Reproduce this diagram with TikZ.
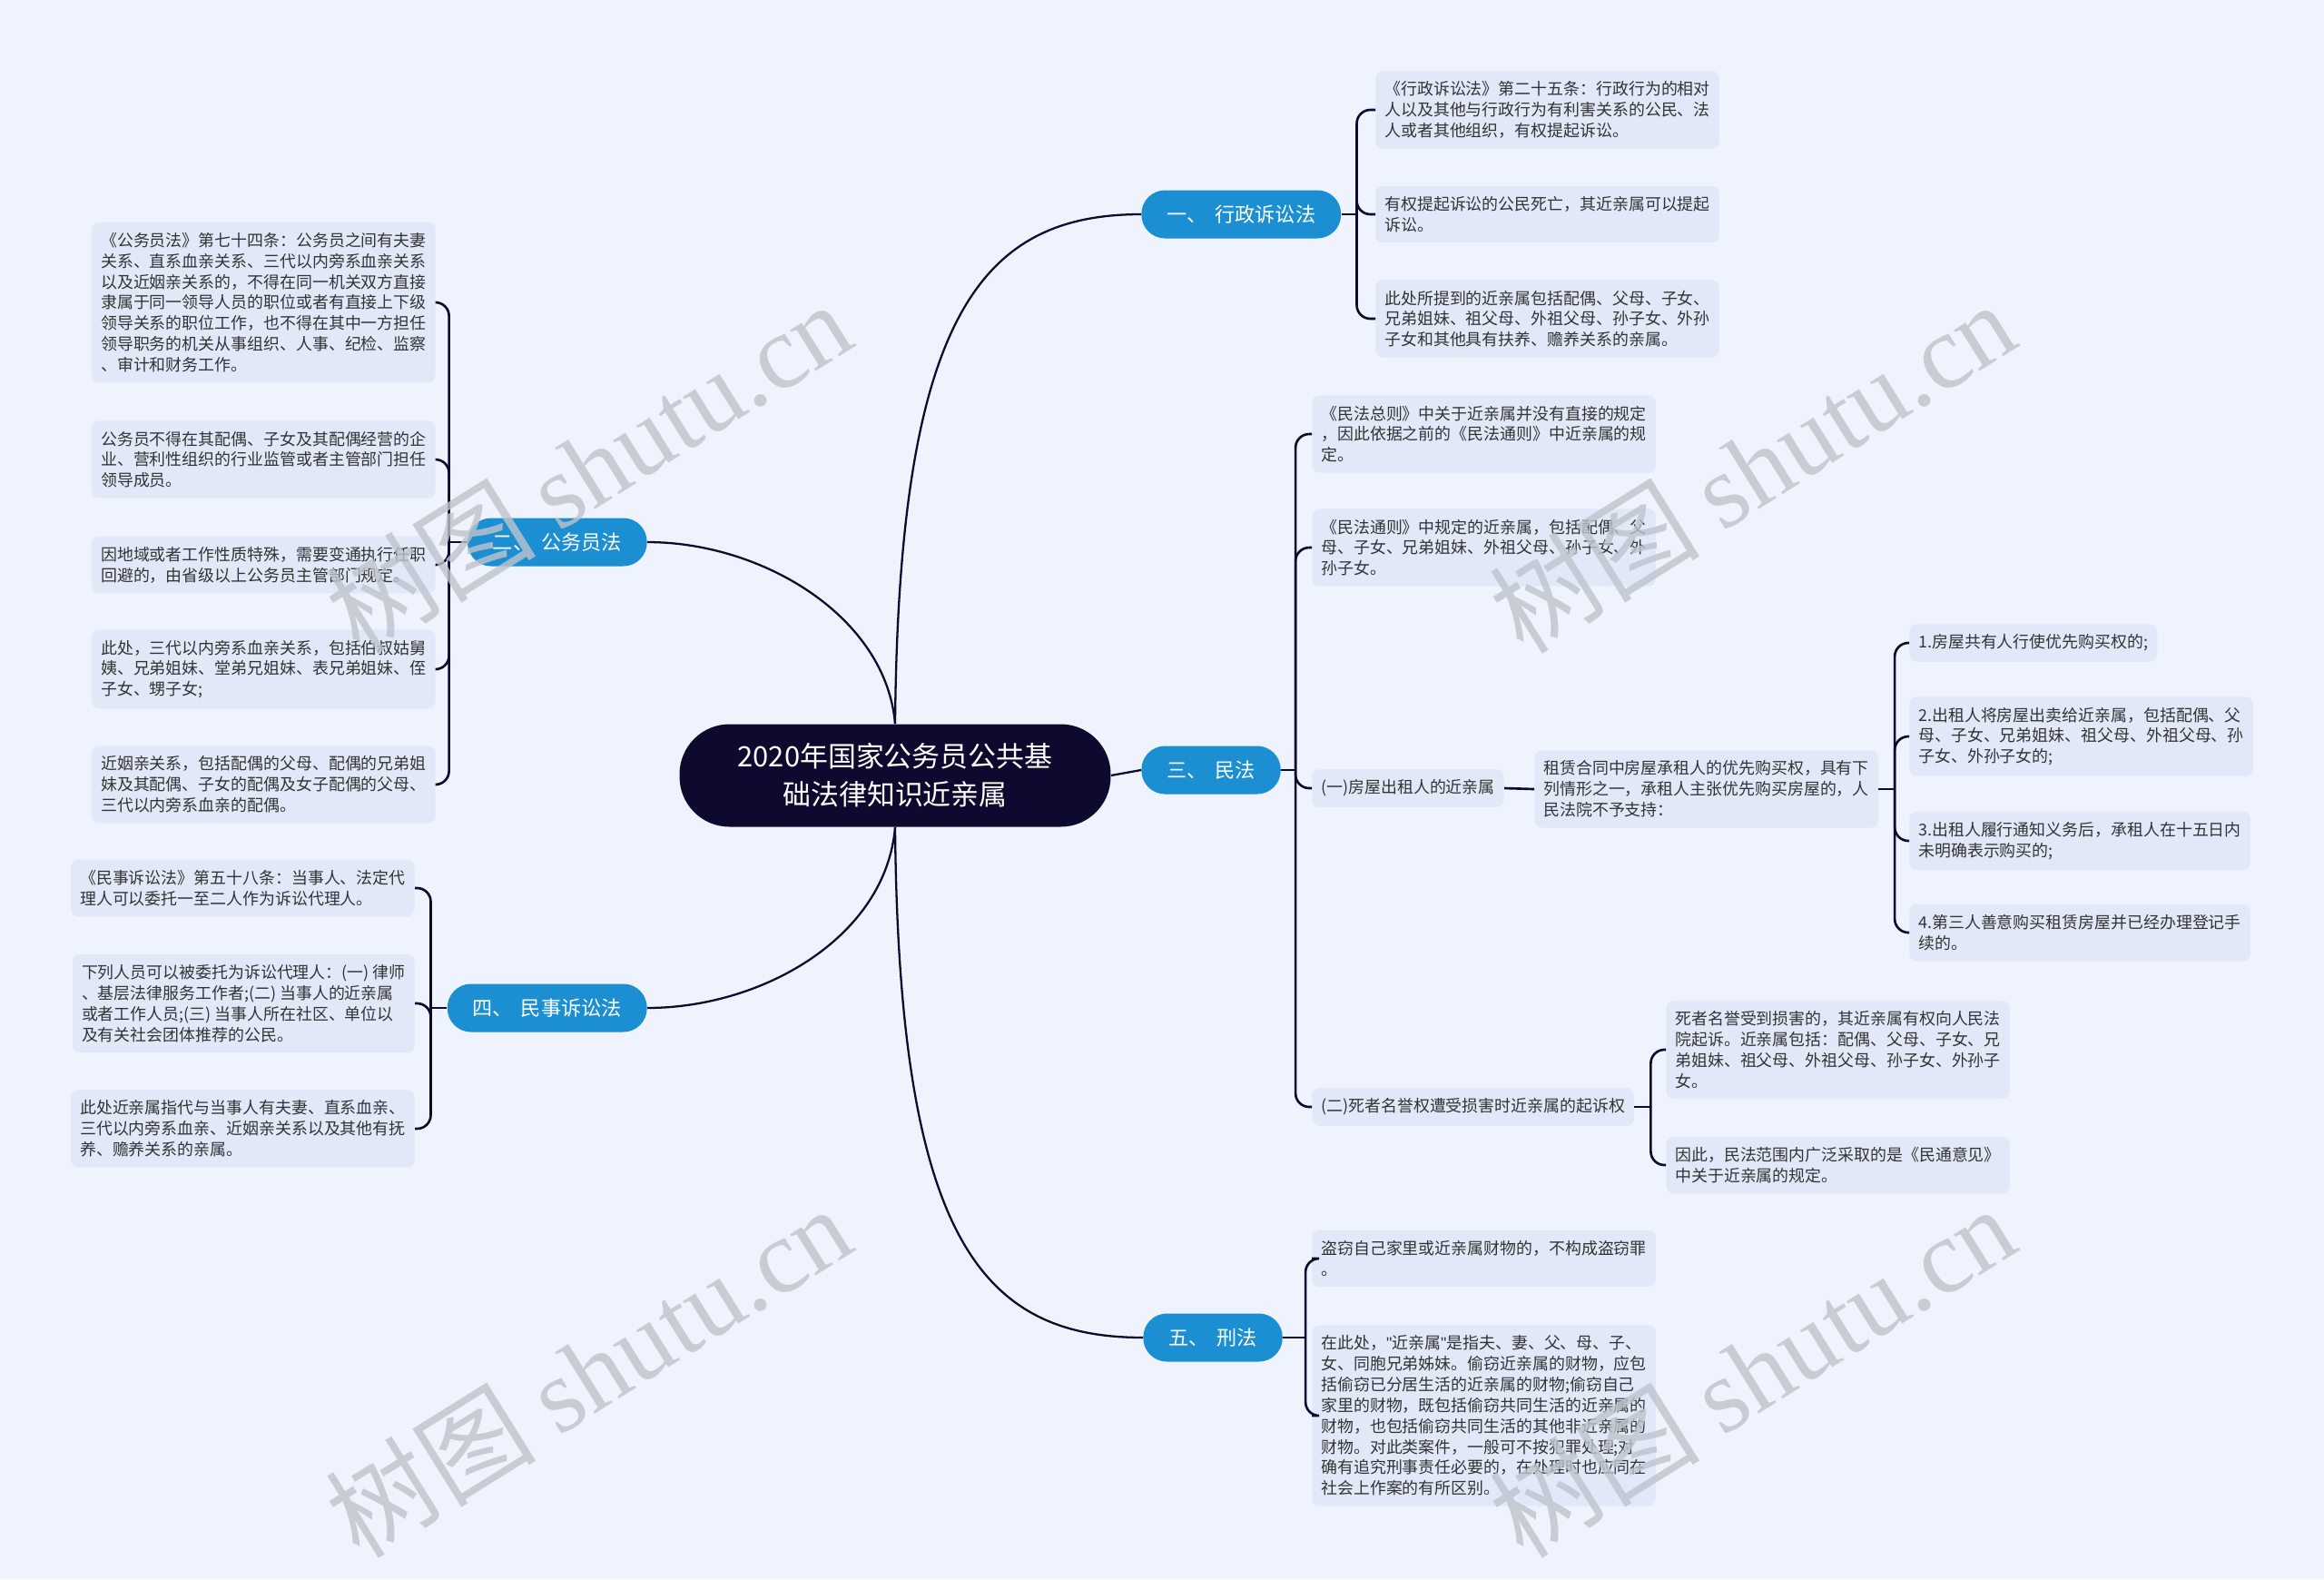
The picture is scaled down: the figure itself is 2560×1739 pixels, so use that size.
\documentclass[tikz,border=0pt]{standalone}
\usepackage{fontspec}
\setmainfont{Noto Sans CJK SC}
\newfontfamily\wmlatin{Liberation Serif}
\newfontfamily\quotefont{Liberation Sans}
\usepackage{tikz}
\usetikzlibrary{positioning, calc}

\definecolor{pagebg}{HTML}{EEF3FD}
\definecolor{leafbg}{HTML}{E1E9F9}
\definecolor{leafink}{HTML}{333333}
\definecolor{rootbg}{HTML}{0E0A2F}
\definecolor{branchbg}{HTML}{1B8FD2}
\definecolor{linkcol}{HTML}{0E0A2F}
\definecolor{wmgray}{HTML}{BFC4CC}

\tikzset{
  %% Root topic
  root/.style={
    rectangle, rounded corners=1.1cm,
    fill=rootbg, text=white, align=center,
    font={\fontsize{17.6pt}{23.8pt}\selectfont},
    minimum width=9.5cm, minimum height=2.26cm, inner sep=0pt
  },
  %% Main branch pill
  branch/.style={
    rectangle, rounded corners=0.52cm,
    fill=branchbg, text=white,
    font={\fontsize{12.6pt}{15pt}\selectfont},
    minimum height=1.06cm, inner xsep=0.56cm, inner ysep=0pt
  },
  %% Leaf note
  leaf/.style={
    rectangle, rounded corners=0.16cm,
    fill=leafbg, text=leafink, align=left,
    font={\fontsize{10.2pt}{13pt}\selectfont},
    inner xsep=0.2cm, inner ysep=0.23cm
  },
  %% Curved link from the root
  link/.style={draw=linkcol, line width=1.3pt},
  %% Bracket from a topic to its notes
  brace/.style={draw=linkcol, line width=1.5pt, rounded corners=0.3cm},
  %% Watermark
  wmark/.style={
    text=wmgray, rotate=32, opacity=0.8,
    font={\fontsize{66pt}{66pt}\selectfont}
  },
}

\begin{document}
\begin{tikzpicture}[x=0.02cm, y=-0.02cm]

  %% Page
  \fill[pagebg] (0,0) rectangle (2560,1739);
  \useasboundingbox (0,0) rectangle (2560,1739);

  %% Root
  \node[root] (c) at (986,854) {2020年国家公务员公共基\\础法律知识近亲属};

  %% Branches
  \node[branch, anchor=west] (b1) at (1257,236)  {一、\hspace{0.4em}行政诉讼法};
  \node[branch, anchor=east] (b2) at (713,597)   {二、\hspace{0.4em}公务员法};
  \node[branch, anchor=west] (b3) at (1257,848)  {三、\hspace{0.4em}民法};
  \node[branch, anchor=east] (b4) at (713,1110)  {四、\hspace{0.4em}民事诉讼法};
  \node[branch, anchor=west] (b5) at (1259,1473) {五、\hspace{0.4em}刑法};

  %% Links from root
  \draw[link] (c.north) .. controls +(4,-448) and +(-177,0) .. (b1.west);
  \draw[link] (c.north) .. controls +(-10,-118) and +(127,0) .. (b2.east);
  \draw[link] (c.east) -- (b3.west);
  \draw[link] (c.south) .. controls +(-10,121) and +(127,0) .. (b4.east);
  \draw[link] (c.south) .. controls +(4,451) and +(-179,0) .. (b5.west);

  %% Notes of branch one
  \node[leaf, anchor=west] (l1a) at (1515,121)
    {《行政诉讼法》第二十五条：行政行为的相对\\人以及其他与行政行为有利害关系的公民、法\\人或者其他组织，有权提起诉讼。};
  \node[leaf, anchor=west] (l1b) at (1515,236)
    {有权提起诉讼的公民死亡，其近亲属可以提起\\诉讼。};
  \node[leaf, anchor=west] (l1c) at (1515,351)
    {此处所提到的近亲属包括配偶、父母、子女、\\兄弟姐妹、祖父母、外祖父母、孙子女、外孙\\子女和其他具有扶养、赡养关系的亲属。};

  %% Notes of branch two
  \node[leaf, anchor=east] (l2a) at (480,333)
    {《公务员法》第七十四条：公务员之间有夫妻\\关系、直系血亲关系、三代以内旁系血亲关系\\以及近姻亲关系的，不得在同一机关双方直接\\隶属于同一领导人员的职位或者有直接上下级\\领导关系的职位工作，也不得在其中一方担任\\领导职务的机关从事组织、人事、纪检、监察\\、审计和财务工作。};
  \node[leaf, anchor=east] (l2b) at (480,506)
    {公务员不得在其配偶、子女及其配偶经营的企\\业、营利性组织的行业监管或者主管部门担任\\领导成员。};
  \node[leaf, anchor=east] (l2c) at (480,622)
    {因地域或者工作性质特殊，需要变通执行任职\\回避的，由省级以上公务员主管部门规定。};
  \node[leaf, anchor=east] (l2d) at (480,737)
    {此处，三代以内旁系血亲关系，包括伯叔姑舅\\姨、兄弟姐妹、堂弟兄姐妹、表兄弟姐妹、侄\\子女、甥子女;};
  \node[leaf, anchor=east] (l2e) at (480,864)
    {近姻亲关系，包括配偶的父母、配偶的兄弟姐\\妹及其配偶、子女的配偶及女子配偶的父母、\\三代以内旁系血亲的配偶。};

  %% Notes of branch three
  \node[leaf, anchor=west] (l3a) at (1445,478)
    {《民法总则》中关于近亲属并没有直接的规定\\，因此依据之前的《民法通则》中近亲属的规\\定。};
  \node[leaf, anchor=west] (l3b) at (1445,603)
    {《民法通则》中规定的近亲属，包括配偶、父\\母、子女、兄弟姐妹、外祖父母、孙子女、外\\孙子女。};
  \node[leaf, anchor=west] (l3c) at (1445,868) {(一)房屋出租人的近亲属};
  \node[leaf, anchor=west] (l3d) at (1690,869)
    {租赁合同中房屋承租人的优先购买权，具有下\\列情形之一，承租人主张优先购买房屋的，人\\民法院不予支持：};
  \node[leaf, anchor=west] (l3e) at (2103,708) {1.房屋共有人行使优先购买权的;};
  \node[leaf, anchor=west] (l3f) at (2103,811)
    {2.出租人将房屋出卖给近亲属，包括配偶、父\\母、子女、兄弟姐妹、祖父母、外祖父母、孙\\子女、外孙子女的;};
  \node[leaf, anchor=west] (l3g) at (2103,926)
    {3.出租人履行通知义务后，承租人在十五日内\\未明确表示购买的;};
  \node[leaf, anchor=west] (l3h) at (2103,1027)
    {4.第三人善意购买租赁房屋并已经办理登记手\\续的。};
  \node[leaf, anchor=west] (l3i) at (1445,1219) {(二)死者名誉权遭受损害时近亲属的起诉权};
  \node[leaf, anchor=west] (l3j) at (1835,1156)
    {死者名誉受到损害的，其近亲属有权向人民法\\院起诉。近亲属包括：配偶、父母、子女、兄\\弟姐妹、祖父母、外祖父母、孙子女、外孙子\\女。};
  \node[leaf, anchor=west] (l3k) at (1835,1283)
    {因此，民法范围内广泛采取的是《民通意见》\\中关于近亲属的规定。};

  %% Notes of branch four
  \node[leaf, anchor=east] (l4a) at (457,978)
    {《民事诉讼法》第五十八条：当事人、法定代\\理人可以委托一至二人作为诉讼代理人。};
  \node[leaf, anchor=east] (l4b) at (457,1105)
    {下列人员可以被委托为诉讼代理人：(一) 律师\\、基层法律服务工作者;(二) 当事人的近亲属\\或者工作人员;(三) 当事人所在社区、单位以\\及有关社会团体推荐的公民。};
  \node[leaf, anchor=east] (l4c) at (457,1243)
    {此处近亲属指代与当事人有夫妻、直系血亲、\\三代以内旁系血亲、近姻亲关系以及其他有抚\\养、赡养关系的亲属。};

  %% Notes of branch five
  \node[leaf, anchor=west] (l5a) at (1445,1386)
    {盗窃自己家里或近亲属财物的，不构成盗窃罪\\。};
  \node[leaf, anchor=west] (l5b) at (1445,1559)
    {在此处，{\quotefont"}近亲属{\quotefont"}是指夫、妻、父、母、子、\\女、同胞兄弟姊妹。偷窃近亲属的财物，应包\\括偷窃已分居生活的近亲属的财物;偷窃自己\\家里的财物，既包括偷窃共同生活的近亲属的\\财物，也包括偷窃共同生活的其他非近亲属的\\财物。对此类案件，一般可不按犯罪处理;对\\确有追究刑事责任必要的，在处理时也应同在\\社会上作案的有所区别。};

  %% Brackets
  \draw[brace] (b1.east) -- ++(17,0) coordinate (s1);
  \foreach \n in {l1a,l1b,l1c}
    \draw[brace] (s1) |- (\n.west);

  \draw[brace] (b2.west) -- ++(-20,0) coordinate (s2);
  \foreach \n in {l2a,l2b,l2c,l2d,l2e}
    \draw[brace] (s2) |- (\n.east);

  \draw[brace] (b3.east) -- ++(16,0) coordinate (s3);
  \foreach \n in {l3a,l3b,l3c,l3i}
    \draw[brace] (s3) |- (\n.west);
  \draw[brace] (l3c.east) -- (l3d.west);
  \draw[brace] (l3d.east) -- ++(18,0) coordinate (s3d);
  \foreach \n in {l3e,l3f,l3g,l3h}
    \draw[brace] (s3d) |- (\n.west);
  \draw[brace] (l3i.east) -- ++(18,0) coordinate (s3i);
  \foreach \n in {l3j,l3k}
    \draw[brace] (s3i) |- (\n.west);

  \draw[brace] (b4.west) -- ++(-18,0) coordinate (s4);
  \foreach \n in {l4a,l4b,l4c}
    \draw[brace] (s4) |- (\n.east);

  \draw[brace] (b5.east) -- ++(25,0) coordinate (s5);
  \foreach \n in {l5a,l5b}
    \draw[brace] (s5) |- (\n.west);

  %% Watermarks
  \node[wmark] (wm1) at (648,514)   {树图 {\wmlatin shutu.cn}};
  \node[wmark] (wm2) at (1930,514)  {树图 {\wmlatin shutu.cn}};
  \node[wmark] (wm3) at (648,1510)  {树图 {\wmlatin shutu.cn}};
  \node[wmark] (wm4) at (1930,1510) {树图 {\wmlatin shutu.cn}};

\end{tikzpicture}
\end{document}
